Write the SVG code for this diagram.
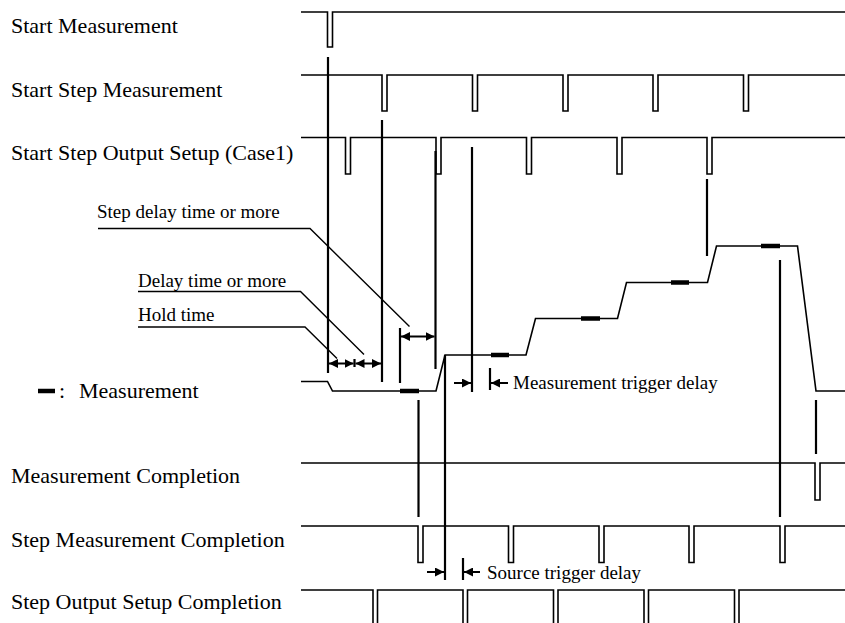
<svg xmlns="http://www.w3.org/2000/svg" width="845" height="623" viewBox="0 0 845 623">
<defs>
<style>
.lbl{font-family:"Liberation Serif","Times New Roman",serif;font-size:22px;fill:#000}
.sm{font-family:"Liberation Serif","Times New Roman",serif;font-size:19px;fill:#000}
.wave{fill:none;stroke:#000;stroke-width:1.6;stroke-linejoin:miter}
.vl{fill:none;stroke:#000;stroke-width:2.2}
.lead{fill:none;stroke:#000;stroke-width:1.4}
.arr{fill:none;stroke:#000;stroke-width:2}
.bar{stroke:#000;stroke-width:4.5}
</style>
<marker id="ah" viewBox="0 0 10 10" refX="10" refY="5" markerWidth="9" markerHeight="9" markerUnits="userSpaceOnUse" orient="auto-start-reverse">
<path d="M0,0 L10,5 L0,10 z" fill="#000"/>
</marker>
</defs>
<rect width="845" height="623" fill="#fff"/>

<g id="start-measurement">
<text class="lbl" x="11" y="33">Start Measurement</text>
<path class="wave" d="M301,12 H327.5 V47 H332.5 V12 H845"/>
</g>

<g id="start-step-measurement">
<text class="lbl" x="11" y="96.5">Start Step Measurement</text>
<path class="wave" d="M301,75 H382 V111 H387 V75 H472.5 V111 H477.5 V75 H563 V111 H568 V75 H653 V111 H658 V75 H743.5 V111 H748.5 V75 H845"/>
</g>

<g id="start-step-output-setup">
<text class="lbl" x="11" y="160">Start Step Output Setup (Case1)</text>
<path class="wave" d="M301,137.5 H345.5 V174 H350.5 V137.5 H436 V174 H441 V137.5 H526.5 V174 H531.5 V137.5 H617 V174 H622 V137.5 H707 V174 H712 V137.5 H845"/>
</g>

<g id="measurement-level">
<path class="wave" d="M301,381.5 H327.5 L332.5,391 H436 L445,355 H526 L535.5,318.5 H617.5 L626.5,282.5 H707.5 L716.5,246 H797.5 L816,391 H845"/>
<line class="bar" x1="400" y1="391" x2="419" y2="391"/>
<line class="bar" x1="491" y1="355" x2="509" y2="355"/>
<line class="bar" x1="581" y1="318.5" x2="600" y2="318.5"/>
<line class="bar" x1="671" y1="282.5" x2="689" y2="282.5"/>
<line class="bar" x1="761" y1="246" x2="780" y2="246"/>
</g>

<g id="legend">
<line class="bar" x1="38" y1="391" x2="55" y2="391"/>
<text class="lbl" x="59" y="398">:</text>
<text class="lbl" x="79" y="398">Measurement</text>
</g>

<g id="measurement-completion">
<text class="lbl" x="11" y="483">Measurement Completion</text>
<path class="wave" d="M301,463 H815 V500 H820 V463 H845"/>
</g>

<g id="step-measurement-completion">
<text class="lbl" x="11" y="546.5">Step Measurement Completion</text>
<path class="wave" d="M301,526 H418 V562.5 H423 V526 H508.5 V562.5 H513.5 V526 H599 V562.5 H604 V526 H689 V562.5 H694 V526 H780 V562.5 H785 V526 H845"/>
</g>

<g id="step-output-setup-completion">
<text class="lbl" x="11" y="609">Step Output Setup Completion</text>
<path class="wave" d="M301,590 H373 V630 M377.5,630 V590 H463 V630 M467.5,630 V590 H553.5 V630 M558,630 V590 H644 V630 M648.5,630 V590 H734.5 V630 M739,630 V590 H845"/>
</g>

<g id="annotations">
<text class="sm" x="97" y="218">Step delay time or more</text>
<text class="sm" x="138" y="287">Delay time or more</text>
<text class="sm" x="138" y="320.5">Hold time</text>
<text class="sm" x="513" y="389">Measurement trigger delay</text>
<text class="sm" x="487" y="579">Source trigger delay</text>
</g>

<g id="connectors">
<line class="vl" x1="328" y1="57" x2="328" y2="373"/>
<line class="vl" x1="382" y1="120" x2="382" y2="382"/>
<line class="vl" x1="472" y1="147" x2="472" y2="392"/>
<line class="vl" x1="435.5" y1="151" x2="435.5" y2="369"/>
<line class="vl" x1="707" y1="179" x2="707" y2="256"/>
<line class="vl" x1="400" y1="328" x2="400" y2="383"/>
<line class="vl" x1="418.5" y1="400" x2="418.5" y2="517"/>
<line class="vl" x1="445" y1="355" x2="445" y2="580"/>
<line class="vl" x1="780" y1="260" x2="780" y2="517"/>
<line class="vl" x1="816" y1="400" x2="816" y2="454"/>
<line class="vl" x1="490" y1="368" x2="490" y2="390"/>
<line class="vl" x1="463" y1="558" x2="463" y2="580"/>
<line class="vl" x1="354.5" y1="359" x2="354.5" y2="367"/>
<path class="lead" d="M98,228.5 H310 L409.5,326.5"/>
<path class="lead" d="M138,291.5 H300.5 L364,354.5"/>
<path class="lead" d="M138,327 H305 L337,358.5"/>
<line class="arr" x1="329" y1="363.5" x2="353.5" y2="363.5" marker-start="url(#ah)" marker-end="url(#ah)"/>
<line class="arr" x1="355.5" y1="363.5" x2="381" y2="363.5" marker-start="url(#ah)" marker-end="url(#ah)"/>
<line class="arr" x1="401" y1="336.5" x2="434.5" y2="336.5" marker-start="url(#ah)" marker-end="url(#ah)"/>
<line class="arr" x1="454" y1="383" x2="471" y2="383" marker-end="url(#ah)"/>
<line class="arr" x1="508" y1="383" x2="491" y2="383" marker-end="url(#ah)"/>
<line class="arr" x1="427" y1="572" x2="444" y2="572" marker-end="url(#ah)"/>
<line class="arr" x1="480" y1="572" x2="464" y2="572" marker-end="url(#ah)"/>
</g>
</svg>
